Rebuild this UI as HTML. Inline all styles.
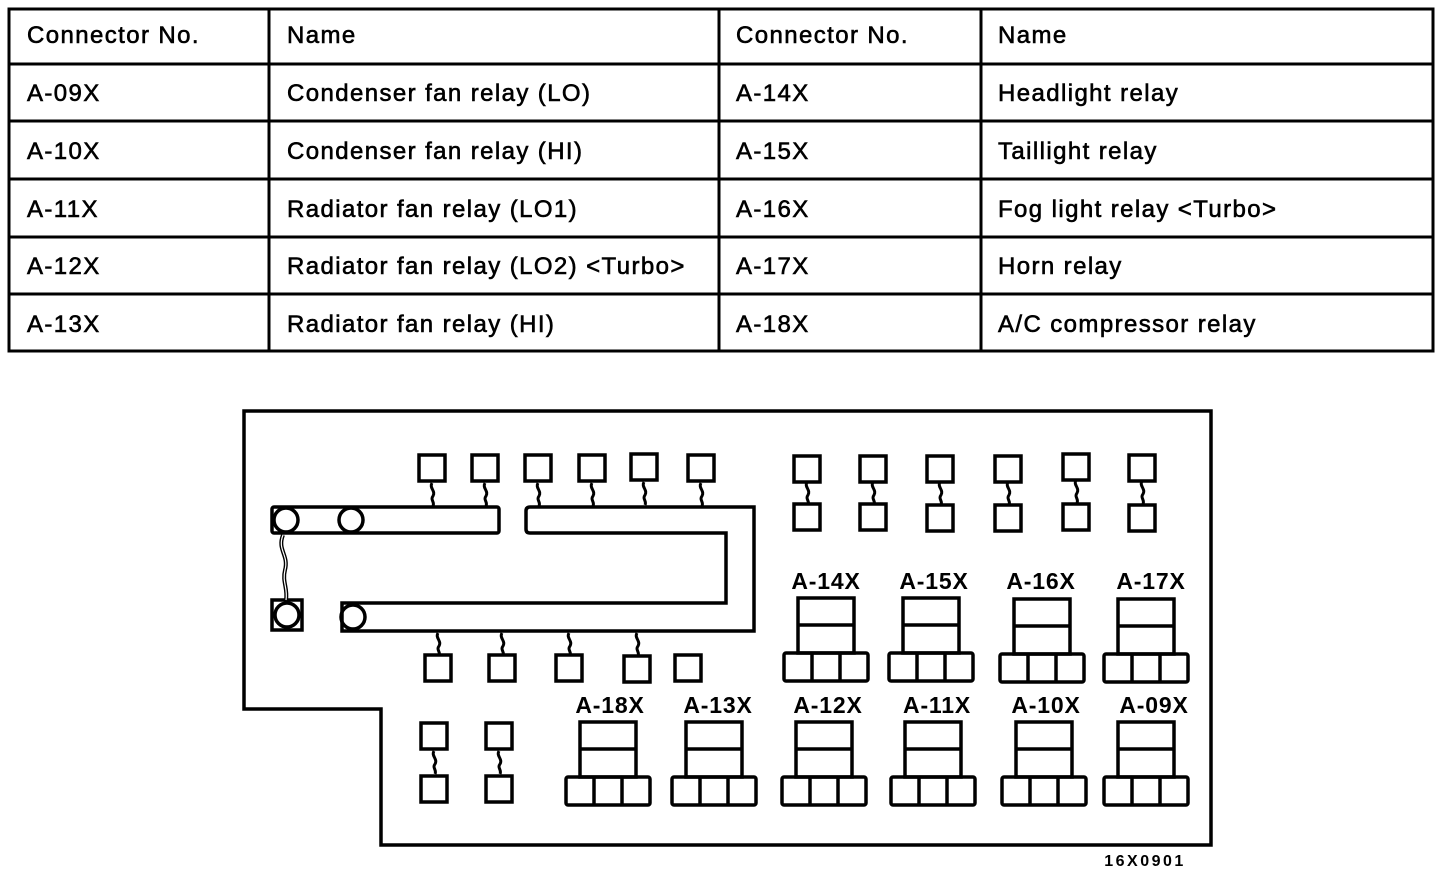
<!DOCTYPE html>
<html><head><meta charset="utf-8"><style>
html,body{margin:0;padding:0;background:#fff;}
svg{display:block;}
.t{font-family:"Liberation Sans",Arial,sans-serif;font-size:24px;fill:#000;stroke:#000;stroke-width:0.6;letter-spacing:1.4px;}
.l{font-family:"Liberation Sans",Arial,sans-serif;font-size:23px;font-weight:bold;fill:#000;text-anchor:middle;letter-spacing:0.8px;}
</style></head><body>
<svg width="1440" height="874" viewBox="0 0 1440 874" xmlns="http://www.w3.org/2000/svg">
<defs>
<g id="relay" fill="none" stroke="#000" stroke-width="3.5">
<rect x="-28" y="0" width="56" height="55"/>
<line x1="-28" y1="27" x2="28" y2="27"/>
<rect x="-42" y="55" width="84" height="28" rx="2"/>
<line x1="-14" y1="55" x2="-14" y2="83"/>
<line x1="14" y1="55" x2="14" y2="83"/>
</g>
<rect id="sq" x="-13" y="0" width="26" height="26" fill="#fff" stroke="#000" stroke-width="3.5"/>
<path id="wz" d="M0,0 c-3,5 4,8 1,13 c-3,4 2,6 0,10" fill="none" stroke="#000" stroke-width="3"/>
</defs>
<g fill="none" stroke="#000" stroke-width="3">
<rect x="9" y="9" width="1424" height="342"/>
<line x1="9" y1="64" x2="1433" y2="64"/>
<line x1="9" y1="121" x2="1433" y2="121"/>
<line x1="9" y1="179" x2="1433" y2="179"/>
<line x1="9" y1="237" x2="1433" y2="237"/>
<line x1="9" y1="294" x2="1433" y2="294"/>
<line x1="269" y1="9" x2="269" y2="351"/>
<line x1="719" y1="9" x2="719" y2="351"/>
<line x1="981" y1="9" x2="981" y2="351"/>
</g>
<g class="t">
<text x="27" y="43">Connector No.</text><text x="287" y="43">Name</text><text x="736" y="43">Connector No.</text><text x="998" y="43">Name</text>
<text x="27" y="101">A-09X</text><text x="287" y="101">Condenser fan relay (LO)</text><text x="736" y="101">A-14X</text><text x="998" y="101">Headlight relay</text>
<text x="27" y="159">A-10X</text><text x="287" y="159">Condenser fan relay (HI)</text><text x="736" y="159">A-15X</text><text x="998" y="159">Taillight relay</text>
<text x="27" y="217">A-11X</text><text x="287" y="217">Radiator fan relay (LO1)</text><text x="736" y="217">A-16X</text><text x="998" y="217">Fog light relay &lt;Turbo&gt;</text>
<text x="27" y="274">A-12X</text><text x="287" y="274">Radiator fan relay (LO2) &lt;Turbo&gt;</text><text x="736" y="274">A-17X</text><text x="998" y="274">Horn relay</text>
<text x="27" y="332">A-13X</text><text x="287" y="332">Radiator fan relay (HI)</text><text x="736" y="332">A-18X</text><text x="998" y="332">A/C compressor relay</text>
</g>
<path d="M244,411 H1211 V845 H381 V709 H244 Z" fill="none" stroke="#000" stroke-width="3.5"/>
<g fill="none" stroke="#000" stroke-width="3.5">
<rect x="272" y="507" width="227" height="26" rx="2"/>
<circle cx="286" cy="520" r="12"/><circle cx="351" cy="520" r="12"/>
<path d="M530,507 H754 V631 H342 V603 H726 V533 H530 Q526,533 526,529 V511 Q526,507 530,507 Z"/>
<circle cx="353" cy="617" r="12"/>
<rect x="272" y="600" width="30" height="30"/>
<circle cx="287" cy="615" r="12"/>
<path d="M283,535 c-6,15 6,20 2,35 c-3,12 3,18 1,30" stroke-width="4"/>
<path d="M283,535 c-6,15 6,20 2,35 c-3,12 3,18 1,30" stroke="#fff" stroke-width="1.2"/>
</g>
<g>
<use href="#sq" x="432" y="455"/><use href="#wz" x="432" y="483"/>
<use href="#sq" x="485" y="455"/><use href="#wz" x="485" y="483"/>
<use href="#sq" x="538" y="455"/><use href="#wz" x="538" y="483"/>
<use href="#sq" x="592" y="455"/><use href="#wz" x="592" y="483"/>
<use href="#sq" x="644" y="454"/><use href="#wz" x="644" y="482"/>
<use href="#sq" x="701" y="455"/><use href="#wz" x="701" y="483"/>
</g>
<g>
<use href="#wz" x="438" y="633"/><use href="#sq" x="438" y="655"/>
<use href="#wz" x="502" y="633"/><use href="#sq" x="502" y="655"/>
<use href="#wz" x="569" y="633"/><use href="#sq" x="569" y="655"/>
<use href="#wz" x="637" y="633"/><use href="#sq" x="637" y="656"/>
<use href="#sq" x="688" y="655"/>
</g>
<g>
<use href="#sq" x="807" y="456"/><use href="#wz" x="807" y="482"/><use href="#sq" x="807" y="504"/>
<use href="#sq" x="873" y="456"/><use href="#wz" x="873" y="482"/><use href="#sq" x="873" y="504"/>
<use href="#sq" x="940" y="456"/><use href="#wz" x="940" y="482"/><use href="#sq" x="940" y="505"/>
<use href="#sq" x="1008" y="456"/><use href="#wz" x="1008" y="482"/><use href="#sq" x="1008" y="505"/>
<use href="#sq" x="1076" y="454"/><use href="#wz" x="1076" y="480"/><use href="#sq" x="1076" y="504"/>
<use href="#sq" x="1142" y="455"/><use href="#wz" x="1142" y="481"/><use href="#sq" x="1142" y="505"/>
</g>
<g>
<use href="#sq" x="434" y="723"/><use href="#wz" x="434" y="751"/><use href="#sq" x="434" y="776"/>
<use href="#sq" x="499" y="723"/><use href="#wz" x="499" y="751"/><use href="#sq" x="499" y="776"/>
</g>
<use href="#relay" x="826" y="598"/><use href="#relay" x="931" y="598"/><use href="#relay" x="1042" y="599"/><use href="#relay" x="1146" y="599"/>
<use href="#relay" x="608" y="722"/><use href="#relay" x="714" y="722"/><use href="#relay" x="824" y="722"/><use href="#relay" x="933" y="722"/><use href="#relay" x="1044" y="722"/><use href="#relay" x="1146" y="722"/>
<g class="l">
<text x="826" y="589">A-14X</text><text x="934" y="589">A-15X</text><text x="1041" y="589">A-16X</text><text x="1151" y="589">A-17X</text>
<text x="610" y="713">A-18X</text><text x="718" y="713">A-13X</text><text x="828" y="713">A-12X</text><text x="937" y="713">A-11X</text><text x="1046" y="713">A-10X</text><text x="1154" y="713">A-09X</text>
</g>
<text x="1145" y="866" style="font-family:'Liberation Sans',Arial,sans-serif;font-size:16px;font-weight:bold;letter-spacing:2.5px" text-anchor="middle">16X0901</text>
</svg>
</body></html>
